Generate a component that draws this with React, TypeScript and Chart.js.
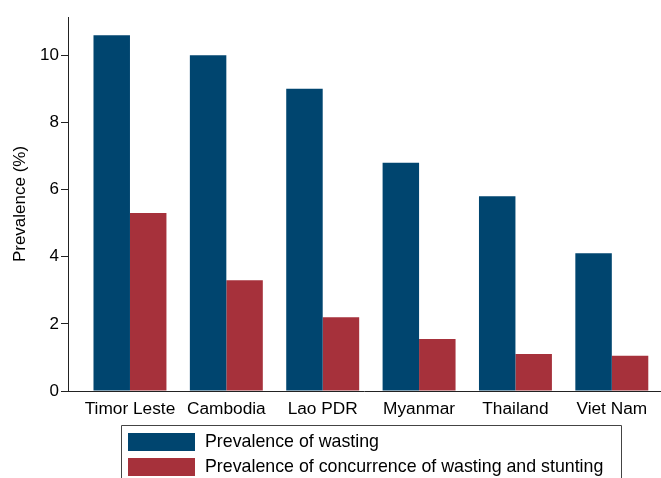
import { useEffect, useRef } from 'react';
import { Chart, registerables } from 'chart.js';

Chart.register(...registerables);

// Countries along the x axis
const countries = ['Timor Leste', 'Cambodia', 'Lao PDR', 'Myanmar', 'Thailand', 'Viet Nam'];
// Prevalence of wasting (%)
const wasting = [10.6, 10.0, 9.0, 6.8, 5.8, 4.1];
// Prevalence of concurrent wasting and stunting (%)
const concurrence = [5.3, 3.3, 2.2, 1.55, 1.1, 1.05];
const seriesNames = ['Prevalence of wasting', 'Prevalence of concurrence of wasting and stunting'];
const yTickValues = [0, 2, 4, 6, 8, 10];

const FONT = "'Liberation Sans', Arial, Helvetica, sans-serif";
const NAVY = '#00456f';
const MAROON = '#a6313b';
const AXIS = '#222222';

// Boxed, vertically stacked legend under the plot
const boxedLegend = {
  id: 'boxedLegend',
  afterDraw(chart: any) {
    const { ctx } = chart;
    const xScale = chart.scales.x;
    const center = (xScale.getPixelForValue(0) + xScale.getPixelForValue(countries.length - 1)) / 2;
    const boxW = 500;
    const left = Math.round(center - boxW / 2) + 0.5;
    const top = 425.5;
    ctx.save();
    ctx.strokeStyle = '#444444';
    ctx.lineWidth = 1;
    ctx.beginPath();
    ctx.moveTo(left, chart.height + 5);
    ctx.lineTo(left, top);
    ctx.lineTo(left + boxW, top);
    ctx.lineTo(left + boxW, chart.height + 5);
    ctx.stroke();
    ctx.font = `17.8px ${FONT}`;
    ctx.textBaseline = 'middle';
    ctx.textAlign = 'left';
    chart.data.datasets.forEach((ds: any, i: number) => {
      const y = top + 7.5 + i * 25;
      ctx.fillStyle = ds.backgroundColor;
      ctx.fillRect(left + 6.5, y, 67, 18);
      ctx.fillStyle = '#000000';
      ctx.fillText(ds.label, left + 83.5, y + 9.5);
    });
    ctx.restore();
  },
};

export default function App() {
  const canvasRef = useRef<HTMLCanvasElement | null>(null);

  useEffect(() => {
    document.body.style.margin = '0';
    const canvas = canvasRef.current;
    if (!canvas) return;
    const chart = new Chart(canvas, {
      type: 'bar',
      data: {
        datasets: [
          {
            label: seriesNames[0],
            data: wasting.map((v, i) => ({ x: i, y: v })),
            backgroundColor: NAVY,
            borderWidth: 0,
          },
          {
            label: seriesNames[1],
            data: concurrence.map((v, i) => ({ x: i, y: v })),
            backgroundColor: MAROON,
            borderWidth: 0,
          },
        ],
      },
      options: {
        animation: false,
        responsive: false,
        devicePixelRatio: 1,
        categoryPercentage: 0.757,
        barPercentage: 1,
        layout: { padding: { top: 17, right: 1, left: 0, bottom: 0 } },
        plugins: {
          legend: { display: false },
          tooltip: { enabled: false },
        },
        scales: {
          x: {
            type: 'linear',
            offset: false,
            min: -0.643,
            max: 5.5,
            grid: { display: false, drawTicks: false },
            border: { display: true, color: AXIS, width: 1 },
            ticks: {
              stepSize: 1,
              includeBounds: false,
              autoSkip: false,
              maxRotation: 0,
              padding: 8,
              color: '#000000',
              font: { family: FONT, size: 17.3 },
              callback: (value: any) =>
                Number.isInteger(value) && countries[value] !== undefined ? countries[value] : '',
            },
            afterFit: (scale: any) => {
              scale.height = 87;
            },
          },
          y: {
            min: 0,
            max: 11.14,
            grid: { drawOnChartArea: false, drawTicks: true, tickLength: 7, color: AXIS },
            border: { display: true, color: AXIS, width: 1 },
            ticks: {
              stepSize: 2,
              includeBounds: false,
              padding: 2,
              color: '#000000',
              font: { family: FONT, size: 17 },
              callback: (value: any) => (yTickValues.includes(value) ? String(value) : ''),
            },
            title: {
              display: true,
              text: 'Prevalence (%)',
              color: '#000000',
              font: { family: FONT, size: 17 },
              padding: { top: 10, bottom: 0 },
            },
            afterFit: (scale: any) => {
              scale.width = 68;
            },
          },
        },
      },
      plugins: [boxedLegend],
    });
    return () => chart.destroy();
  }, []);

  return (
    <div style={{ width: 661, height: 478, background: '#ffffff' }}>
      <canvas ref={canvasRef} width={661} height={478} />
    </div>
  );
}
